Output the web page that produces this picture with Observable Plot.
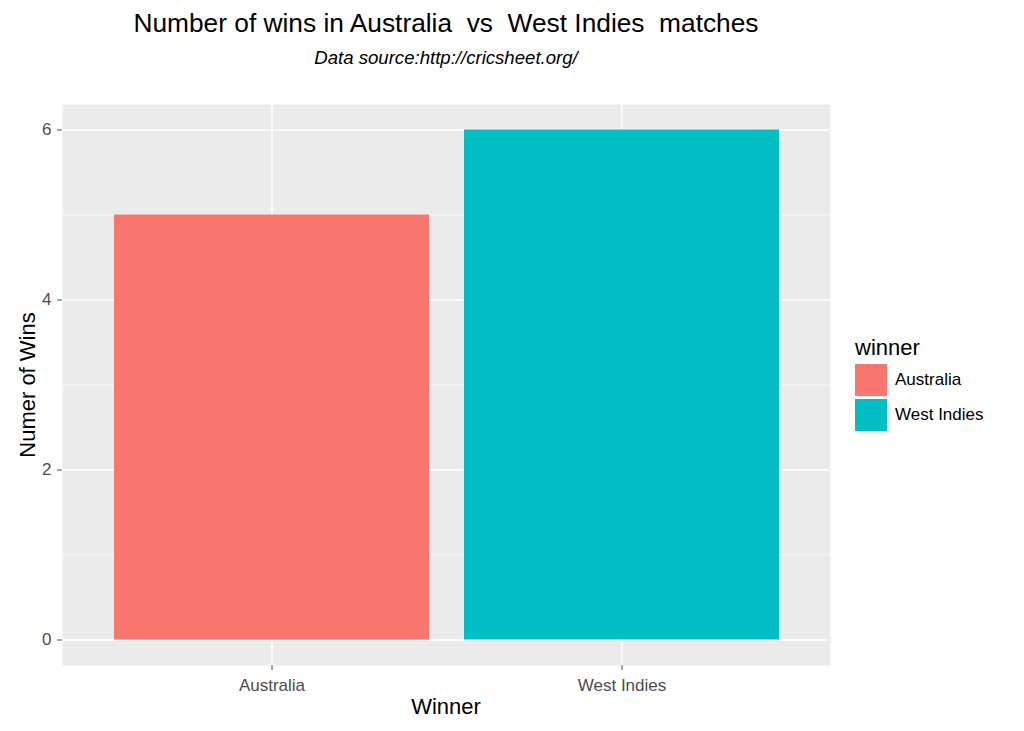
<!DOCTYPE html>
<html>
<head>
<meta charset="utf-8">
<script src="https://cdn.jsdelivr.net/npm/d3@7"></script>
<script src="https://cdn.jsdelivr.net/npm/@observablehq/plot@0.6"></script>
<style>
  body { margin: 0; background: #fff; font-family: Arial, "Liberation Sans", sans-serif; }
  #wrap { position: relative; width: 1024px; height: 731px; overflow: hidden; }
  .t { position: absolute; white-space: pre; color: #000; }
  #title { left: 0; width: 892px; top: 10px; text-align: center; font-size: 26.3px; line-height: 26px; }
  #subtitle { left: 0; width: 892px; top: 49px; text-align: center; font-size: 18.6px; line-height: 18px; font-style: italic; }
  #xtitle { left: 0; width: 892px; top: 696px; text-align: center; font-size: 22px; line-height: 22px; }
  #ytitle { left: 28px; top: 385px; font-size: 22px; line-height: 22px; transform: translate(-50%, -50%) rotate(-90deg); }
  #legend { position: absolute; left: 855px; top: 335px; }
  #legend .lt { font-size: 22px; line-height: 26px; margin-bottom: 1px; }
  #legend .row { display: flex; align-items: center; height: 35px; }
  #legend .key { width: 32px; height: 32px; margin-right: 8px; }
  #legend .lab { font-size: 17px; }
</style>
</head>
<body>
<div id="wrap">
  <div id="chart"></div>
  <div class="t" id="title">Number of wins in Australia  vs  West Indies  matches</div>
  <div class="t" id="subtitle">Data source:http://cricsheet.org/</div>
  <div class="t" id="xtitle">Winner</div>
  <div class="t" id="ytitle">Numer of Wins</div>
  <div id="legend"></div>
</div>
<script>
const winners = ["Australia", "West Indies"];
const wins = [5, 6];
const colors = ["#F8766D", "#00BFC4"];
const yMajor = [0, 2, 4, 6];
const yMinor = [1, 3, 5];
const legendTitle = "winner";

const data = winners.map((w, i) => ({winner: w, wins: wins[i]}));

const chart = Plot.plot({
  width: 1024,
  height: 731,
  marginLeft: 62,
  marginRight: 194,
  marginTop: 104,
  marginBottom: 66,
  style: {fontFamily: "Arial, 'Liberation Sans', sans-serif", background: "transparent", color: "#4D4D4D"},
  x: {domain: winners, paddingInner: 0.1, paddingOuter: 0.145, axis: null},
  y: {domain: [-0.3, 6.3], axis: null},
  color: {domain: winners, range: colors},
  marks: [
    Plot.frame({fill: "#EBEBEB", stroke: null}),
    Plot.ruleY(yMinor, {stroke: "#FFFFFF", strokeWidth: 0.7}),
    Plot.ruleY(yMajor, {stroke: "#FFFFFF", strokeWidth: 1.4}),
    Plot.gridX(winners, {stroke: "#FFFFFF", strokeOpacity: 1, strokeWidth: 1.4}),
    Plot.barY(data, {x: "winner", y: "wins", fill: "winner"}),
    Plot.axisY(yMajor, {tickSize: 5, tickPadding: 6, fontSize: 17, label: null, color: "#4D4D4D", tickFormat: d3.format("d")}),
    Plot.axisX(winners, {tickSize: 5, tickPadding: 8, fontSize: 17, label: null, color: "#4D4D4D"})
  ]
});
document.getElementById("chart").appendChild(chart);

const legend = document.getElementById("legend");
const lt = document.createElement("div");
lt.className = "lt";
lt.textContent = legendTitle;
legend.appendChild(lt);
winners.forEach((w, i) => {
  const row = document.createElement("div");
  row.className = "row";
  const key = document.createElement("div");
  key.className = "key";
  key.style.background = colors[i];
  const lab = document.createElement("div");
  lab.className = "lab";
  lab.textContent = w;
  row.appendChild(key);
  row.appendChild(lab);
  legend.appendChild(row);
});
</script>
</body>
</html>
